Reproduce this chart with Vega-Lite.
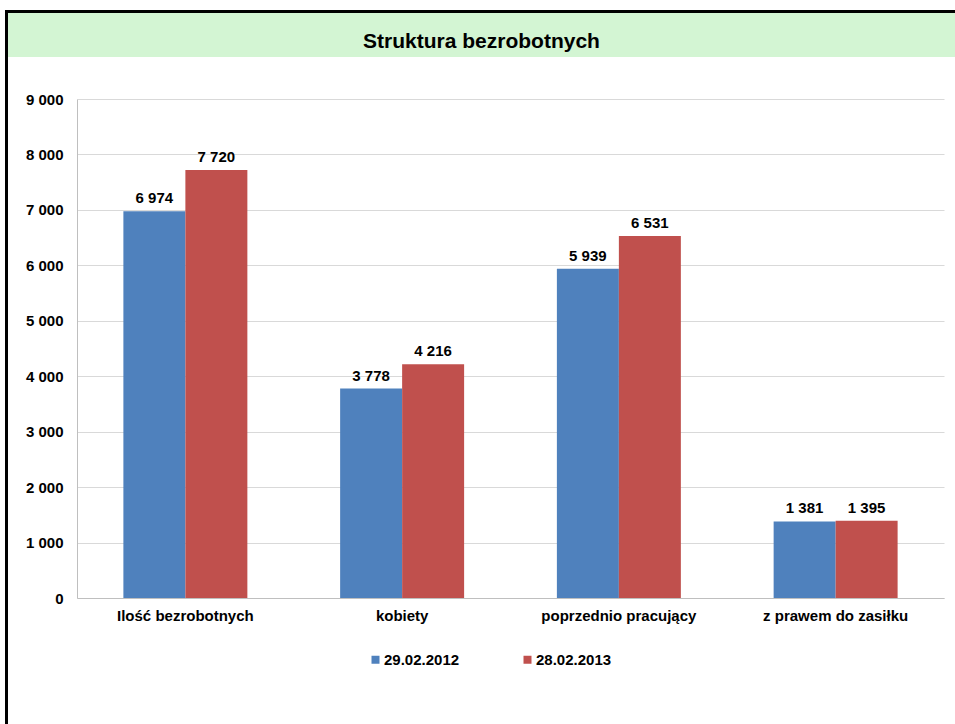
{
  "$schema": "https://vega.github.io/schema/vega-lite/v6.json",
  "padding": {"left": 5, "top": 10, "right": 0, "bottom": 0},
  "background": "white",
  "config": {
    "font": "Liberation Sans",
    "view": {"stroke": null},
    "locale": {"number": {"decimal": ",", "thousands": " ", "grouping": [3], "currency": ["", " zł"]}}
  },
  "datasets": {
    "bars": [
      {"kategoria": "Ilość bezrobotnych", "data": "29.02.2012", "liczba": 6974},
      {"kategoria": "Ilość bezrobotnych", "data": "28.02.2013", "liczba": 7720},
      {"kategoria": "kobiety", "data": "29.02.2012", "liczba": 3778},
      {"kategoria": "kobiety", "data": "28.02.2013", "liczba": 4216},
      {"kategoria": "poprzednio pracujący", "data": "29.02.2012", "liczba": 5939},
      {"kategoria": "poprzednio pracujący", "data": "28.02.2013", "liczba": 6531},
      {"kategoria": "z prawem do zasiłku", "data": "29.02.2012", "liczba": 1381},
      {"kategoria": "z prawem do zasiłku", "data": "28.02.2013", "liczba": 1395}
    ],
    "blank": [{"t": ""}],
    "heading": [{"t": "Struktura bezrobotnych"}]
  },
  "vconcat": [
    {
      "width": 950,
      "height": 3,
      "view": {"fill": "black", "stroke": null},
      "data": {"name": "blank"},
      "mark": {"type": "text", "fontSize": 0},
      "encoding": {"text": {"field": "t"}}
    },
    {
      "hconcat": [
        {
          "width": 3,
          "height": 44,
          "view": {"fill": "black", "stroke": null},
          "data": {"name": "blank"},
          "mark": {"type": "text", "fontSize": 0},
          "encoding": {"text": {"field": "t"}}
        },
        {
          "width": 947,
          "height": 44,
          "view": {"fill": "#d3f5d3", "stroke": null},
          "data": {"name": "heading"},
          "mark": {"type": "text", "font": "Liberation Sans", "fontSize": 21, "fontWeight": "bold", "color": "black", "align": "center", "baseline": "middle", "dy": 7},
          "encoding": {"text": {"field": "t"}}
        }
      ],
      "spacing": 0
    },
    {
      "hconcat": [
        {
          "width": 3,
          "height": 667,
          "view": {"fill": "black", "stroke": null},
          "data": {"name": "blank"},
          "mark": {"type": "text", "fontSize": 0},
          "encoding": {"text": {"field": "t"}}
        },
        {
          "vconcat": [
            {
              "width": 867,
              "height": 35,
              "data": {"name": "blank"},
              "mark": {"type": "text", "fontSize": 0},
              "encoding": {"text": {"field": "t"}}
            },
            {
              "width": 867,
              "height": 499,
              "data": {"name": "bars"},
              "encoding": {
                "x": {
                  "field": "kategoria", "type": "nominal", "sort": null,
                  "scale": {"paddingInner": 0.428, "paddingOuter": 0.214},
                  "axis": {"title": null, "labelAngle": 0, "ticks": false, "labelPadding": 10, "labelFontSize": 15, "labelFontWeight": "bold", "labelColor": "black", "domainColor": "#bfbfbf", "grid": false}
                },
                "xOffset": {"field": "data", "type": "nominal", "sort": ["29.02.2012", "28.02.2013"], "scale": {"paddingInner": 0, "paddingOuter": 0}},
                "y": {
                  "field": "liczba", "type": "quantitative",
                  "scale": {"domain": [0, 9000], "nice": false},
                  "axis": {"title": null, "values": [0, 1000, 2000, 3000, 4000, 5000, 6000, 7000, 8000, 9000], "format": ",d", "ticks": false, "labelPadding": 14, "labelFontSize": 15, "labelFontWeight": "bold", "labelColor": "black", "domainColor": "#bfbfbf", "gridColor": "#d9d9d9", "minExtent": 69, "maxExtent": 69}
                }
              },
              "layer": [
                {
                  "mark": {"type": "bar"},
                  "encoding": {
                    "color": {
                      "field": "data", "type": "nominal",
                      "scale": {"domain": ["29.02.2012", "28.02.2013"], "range": ["#4f81bd", "#c0504d"]},
                      "legend": {"title": null, "orient": "none", "legendX": 363, "legendY": 642, "direction": "horizontal", "symbolType": "square", "symbolSize": 64, "symbolStrokeWidth": 0, "labelFontSize": 15, "labelFontWeight": "bold", "labelColor": "black", "labelOffset": 1, "columnPadding": 60, "padding": 0}
                    }
                  }
                },
                {
                  "mark": {"type": "text", "baseline": "bottom", "dy": -5, "fontSize": 15, "fontWeight": "bold", "color": "black"},
                  "encoding": {"text": {"field": "liczba", "type": "quantitative", "format": ",d"}}
                }
              ]
            }
          ],
          "spacing": 0
        }
      ],
      "spacing": 0
    }
  ],
  "spacing": 0
}
